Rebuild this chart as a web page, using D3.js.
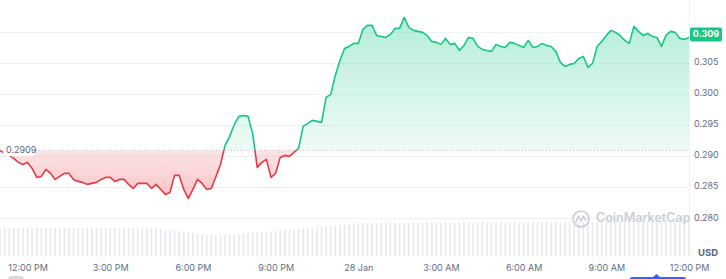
<!DOCTYPE html>
<html>
<head>
<meta charset="utf-8">
<script src="https://cdn.jsdelivr.net/npm/d3@7"></script>
<style>
body{margin:0;background:#fff;}
svg{display:block;font-family:Inter, "Noto Sans", sans-serif;}
</style>
</head>
<body>
<div id="chartDiv"></div>
<script>
// price every 10 min, starting 27 Jan 11:00
var startTime = new Date(2024, 0, 27, 11, 0);
var stepMinutes = 10;
var prices = [
	0.29088,0.2904,0.29008,0.2896,0.28896,0.28863,0.28896,0.28799,0.28654,0.2867,
	0.28783,0.28719,0.28622,0.2867,0.28719,0.28719,0.28622,0.2859,0.28574,0.28542,
	0.28558,0.28574,0.28622,0.28654,0.28654,0.2859,0.28622,0.28622,0.28542,0.28477,
	0.28558,0.28558,0.28558,0.28477,0.28542,0.28461,0.28381,0.28413,0.28687,0.28687,
	0.28461,0.28317,0.28461,0.28622,0.28558,0.28461,0.28477,0.2867,0.28863,0.29169,
	0.29314,0.29506,0.29635,0.29651,0.29635,0.29362,0.28815,0.28896,0.28944,0.28654,
	0.28719,0.28976,0.29008,0.28992,0.29056,0.29121,0.29474,0.29523,0.29571,0.29555,
	0.29539,0.2994,0.29989,0.30294,0.30535,0.30728,0.3076,0.30809,0.30809,0.31034,
	0.31098,0.31098,0.30937,0.30921,0.30905,0.30953,0.3105,0.3105,0.31227,0.31066,
	0.31018,0.31002,0.30986,0.30937,0.30841,0.30825,0.30793,0.30889,0.30793,0.30809,
	0.30696,0.30776,0.30905,0.30889,0.3076,0.30712,0.30696,0.3068,0.30793,0.3076,
	0.30744,0.30825,0.30809,0.30776,0.30744,0.30857,0.30744,0.3076,0.30809,0.30776,
	0.3076,0.3068,0.30503,0.30439,0.30471,0.30487,0.30567,0.30599,0.30423,0.30487,
	0.3076,0.30841,0.30937,0.31018,0.30986,0.30937,0.30857,0.30809,0.31082,0.31002,
	0.30937,0.30969,0.30921,0.30905,0.3076,0.30937,0.31002,0.30986,0.30889,0.30873,
	0.30905
];
// 24h volume (millions USD), same timestamps
var volumes = [
	2.82,2.82,2.81,2.81,2.80,2.80,2.80,2.79,2.79,2.79,
	2.80,2.80,2.80,2.80,2.79,2.79,2.78,2.78,2.78,2.78,
	2.79,2.79,2.79,2.80,2.80,2.80,2.79,2.79,2.78,2.78,
	2.77,2.77,2.76,2.76,2.75,2.74,2.70,2.64,2.56,2.48,
	2.40,2.32,2.25,2.19,2.15,2.12,2.10,2.10,2.11,2.12,
	2.14,2.17,2.20,2.24,2.28,2.32,2.36,2.40,2.44,2.48,
	2.52,2.56,2.60,2.64,2.68,2.72,2.76,2.80,2.84,2.88,
	2.92,2.96,3.00,3.04,3.08,3.12,3.16,3.20,3.24,3.27,
	3.30,3.30,3.31,3.31,3.32,3.32,3.32,3.33,3.33,3.33,
	3.34,3.34,3.34,3.35,3.35,3.35,3.35,3.36,3.36,3.36,
	3.36,3.37,3.37,3.37,3.37,3.38,3.38,3.38,3.38,3.39,
	3.39,3.39,3.39,3.40,3.40,3.40,3.40,3.41,3.41,3.41,
	3.41,3.42,3.42,3.42,3.42,3.43,3.43,3.43,3.43,3.44,
	3.44,3.44,3.44,3.45,3.45,3.45,3.45,3.46,3.46,3.46,
	3.46,3.47,3.47,3.47,3.47,3.48,3.48,3.48,3.48,3.49,
	3.49
];
var openPrice = 0.2909;
var openLabel = '0.2909';
var gridValues = [0.280, 0.285, 0.290, 0.295, 0.300, 0.305, 0.310];
var yLabels = ['0.280', '0.285', '0.290', '0.295', '0.300', '0.305'];
var badgeText = '0.309';
var watermarkText = 'CoinMarketCap';
var currencyText = 'USD';

var params = {
	width: 726,
	height: 279,
	plotRight: 689,
	volBottom: 256,
	green: '#16c784',
	red: '#ea3943',
	grid: '#eff2f5',
	label: '#616e85'
};

var times = prices.map(function(d, i){ return d3.timeMinute.offset(startTime, i*stepMinutes); });
var data = prices.map(function(d, i){ return {t: times[i], p: d, v: volumes[i]}; });

var svg = d3.select('#chartDiv').append('svg')
	.attr('width', params.width)
	.attr('height', params.height);

var x = d3.scaleTime()
	.domain([times[0], times[times.length-1]])
	.range([0, params.plotRight]);
var y = d3.scaleLinear()
	.domain([0.280, 0.310])
	.range([218.1, 31.5]);
var yVol = d3.scaleLinear()
	.domain([0, 4])
	.range([params.volBottom, params.volBottom - 40]);

var baseY = y(openPrice);

//gradients for the two fills
var defs = svg.append('defs');
var gGreen = defs.append('linearGradient').attr('id', 'gradGreen')
	.attr('gradientUnits', 'userSpaceOnUse')
	.attr('x1', 0).attr('x2', 0).attr('y1', 17).attr('y2', baseY);
gGreen.append('stop').attr('offset', 0).attr('stop-color', params.green).attr('stop-opacity', 0.32);
gGreen.append('stop').attr('offset', 1).attr('stop-color', params.green).attr('stop-opacity', 0.07);
var gRed = defs.append('linearGradient').attr('id', 'gradRed')
	.attr('gradientUnits', 'userSpaceOnUse')
	.attr('x1', 0).attr('x2', 0).attr('y1', baseY).attr('y2', 200);
gRed.append('stop').attr('offset', 0).attr('stop-color', params.red).attr('stop-opacity', 0.14);
gRed.append('stop').attr('offset', 1).attr('stop-color', params.red).attr('stop-opacity', 0.3);

defs.append('clipPath').attr('id', 'clipAbove')
	.append('rect').attr('x', 0).attr('y', 0).attr('width', params.plotRight).attr('height', baseY);
defs.append('clipPath').attr('id', 'clipBelow')
	.append('rect').attr('x', 0).attr('y', baseY).attr('width', params.plotRight).attr('height', params.height - baseY);

//grid
svg.selectAll('.grid').data(gridValues).enter()
	.append('line')
		.attr('class', 'grid')
		.attr('x1', 0)
		.attr('x2', params.plotRight)
		.attr('y1', function(d){ return Math.round(y(d)) + 0.5; })
		.attr('y2', function(d){ return Math.round(y(d)) + 0.5; })
		.attr('stroke', params.grid)
		.attr('stroke-width', 1);

svg.append('line')
	.attr('x1', params.plotRight + 0.5).attr('x2', params.plotRight + 0.5)
	.attr('y1', 0).attr('y2', params.volBottom)
	.attr('stroke', params.grid);

//volume bars, kept very faint
svg.selectAll('.vol').data(data).enter()
	.append('rect')
		.attr('class', 'vol')
		.attr('x', function(d){ return x(d.t) - 0.8; })
		.attr('width', 1.6)
		.attr('y', function(d){ return yVol(d.v); })
		.attr('height', function(d){ return params.volBottom - yVol(d.v); })
		.attr('fill', '#e6e9ee');

//watermark
var wm = svg.append('g').attr('transform', 'translate(581,219)');
wm.append('circle').attr('r', 8).attr('fill', 'none').attr('stroke', '#c9ced7').attr('stroke-width', 1.6);
wm.append('path')
	.attr('d', 'M-5,3 L-2.5,-3 L0,2 L2.5,-3 L4,1 L5.5,0')
	.attr('fill', 'none').attr('stroke', '#c9ced7').attr('stroke-width', 1.5)
	.attr('stroke-linejoin', 'round').attr('stroke-linecap', 'round');
svg.append('text')
	.attr('x', 596).attr('y', 219)
	.attr('dominant-baseline', 'middle')
	.attr('font-size', '12.5px')
	.attr('font-weight', 600)
	.attr('fill', '#c9ced7')
	.text(watermarkText);

//areas and line, split at the open price
var area = d3.area()
	.x(function(d){ return x(d.t); })
	.y0(baseY)
	.y1(function(d){ return y(d.p); });
var line = d3.line()
	.x(function(d){ return x(d.t); })
	.y(function(d){ return y(d.p); });

svg.append('path').datum(data)
	.attr('d', area).attr('fill', 'url(#gradGreen)').attr('clip-path', 'url(#clipAbove)');
svg.append('path').datum(data)
	.attr('d', area).attr('fill', 'url(#gradRed)').attr('clip-path', 'url(#clipBelow)');

//dotted open line
svg.append('line')
	.attr('x1', 0).attr('x2', params.plotRight)
	.attr('y1', baseY).attr('y2', baseY)
	.attr('stroke', '#b9c0cc')
	.attr('stroke-width', 1)
	.attr('stroke-dasharray', '1,2');

svg.append('path').datum(data)
	.attr('d', line).attr('fill', 'none').attr('stroke', params.green).attr('stroke-width', 1.6)
	.attr('stroke-linejoin', 'round').attr('clip-path', 'url(#clipAbove)');
svg.append('path').datum(data)
	.attr('d', line).attr('fill', 'none').attr('stroke', params.red).attr('stroke-width', 1.6)
	.attr('stroke-linejoin', 'round').attr('clip-path', 'url(#clipBelow)');

//open price label
svg.append('rect')
	.attr('x', 3).attr('y', baseY - 6).attr('width', 32).attr('height', 12).attr('rx', 3)
	.attr('fill', '#fff');
svg.append('text')
	.attr('x', 6).attr('y', baseY)
	.attr('dominant-baseline', 'middle')
	.attr('font-size', '9px')
	.attr('fill', '#58667e')
	.text(openLabel);

//y labels on the right
svg.selectAll('.ylab').data(yLabels).enter()
	.append('text')
		.attr('class', 'ylab')
		.attr('x', 694)
		.attr('y', function(d){ return y(+d); })
		.attr('dominant-baseline', 'middle')
		.attr('font-size', '9px')
		.attr('fill', params.label)
		.text(function(d){ return d; });

//last price badge
var lastY = y(prices[prices.length-1]) - 3;
svg.append('rect')
	.attr('x', 690).attr('y', lastY - 7).attr('width', 32).attr('height', 14).attr('rx', 2)
	.attr('fill', params.green);
svg.append('text')
	.attr('x', 706).attr('y', lastY)
	.attr('text-anchor', 'middle')
	.attr('dominant-baseline', 'middle')
	.attr('font-size', '9px')
	.attr('font-weight', 700)
	.attr('fill', '#fff')
	.text(badgeText);

svg.append('text')
	.attr('x', 698).attr('y', 253)
	.attr('dominant-baseline', 'middle')
	.attr('font-size', '9.5px')
	.attr('font-weight', 700)
	.attr('fill', '#58667e')
	.text(currencyText);

//time axis
var fmtHour = d3.timeFormat('%-I:%M %p');
var fmtDay = d3.timeFormat('%-d %b');
var xAxis = d3.axisBottom(x)
	.tickValues(d3.timeHour.every(3).range(d3.timeHour.offset(times[0], 1), d3.timeMinute.offset(times[times.length-1], 1)))
	.tickSize(0)
	.tickFormat(function(d){ return d.getHours() == 0 ? fmtDay(d) : fmtHour(d); });
var gx = svg.append('g')
	.attr('transform', 'translate(0,262)')
	.call(xAxis);
gx.select('.domain').remove();
gx.selectAll('text')
	.attr('font-family', 'Inter, "Noto Sans", sans-serif')
	.attr('font-size', '9px')
	.attr('fill', params.label);

//bits of the range slider at the bottom
svg.append('rect').attr('x', 7).attr('y', 276).attr('width', 18).attr('height', 10).attr('rx', 5).attr('fill', '#d5dae2');
svg.append('rect').attr('x', 630).attr('y', 277).attr('width', 56).attr('height', 5).attr('rx', 2).attr('fill', '#3861fb');
svg.append('path').attr('d', 'M653,277 L656.5,274 L660,277 Z').attr('fill', '#3861fb');
</script>
</body>
</html>
